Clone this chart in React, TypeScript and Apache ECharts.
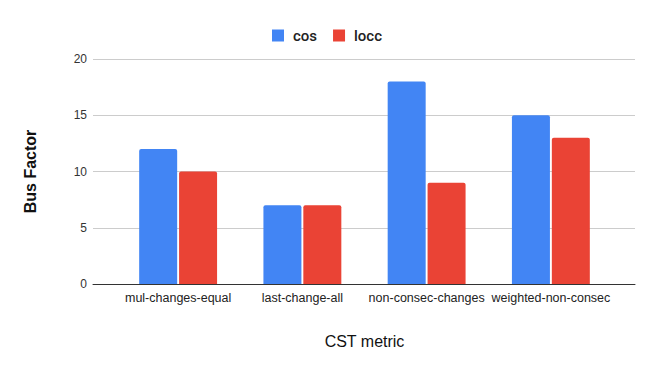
import React, { useEffect, useRef } from "react";
import * as echarts from "echarts";

const categories = ["mul-changes-equal", "last-change-all", "non-consec-changes", "weighted-non-consec"];
const cosValues = [12, 7, 18, 15];
const loccValues = [10, 7, 9, 13];
const seriesNames = ["cos", "locc"];
const yTicks = { min: 0, max: 20, interval: 5 };

const FONT = "'Liberation Sans', Arial, sans-serif";

export default function App() {
  const ref = useRef<HTMLDivElement>(null);
  useEffect(() => {
    document.body.style.margin = "0";
    const chart = echarts.init(ref.current!, null, { renderer: "svg" });
    chart.setOption({
      animation: false,
      backgroundColor: "#ffffff",
      legend: {
        top: 23,
        left: "center",
        itemWidth: 12,
        itemHeight: 12,
        itemGap: 16,
        icon: "rect",
        data: seriesNames,
        textStyle: { fontFamily: "Roboto, sans-serif", fontSize: 15, fontWeight: 500, color: "#222", padding: [0, 0, 0, 4] },
      },
      grid: [
        { left: 93, right: 19, top: 59, bottom: 87 },
        { left: 116, right: 41, top: 59, bottom: 87 },
      ],
      xAxis: [
        {
          gridIndex: 0,
          type: "value",
          min: 0,
          max: 1,
          axisLine: { show: true, lineStyle: { color: "#333", width: 1 } },
          axisTick: { show: false },
          axisLabel: { show: false },
          splitLine: { show: false },
        },
        {
          gridIndex: 1,
          type: "category",
          data: categories,
          axisLine: { show: false },
          axisTick: { show: false },
          axisLabel: { fontFamily: FONT, fontSize: 12.5, color: "#222", margin: 7, interval: 0 },
          name: "CST metric",
          nameLocation: "middle",
          nameGap: 49,
          nameTextStyle: { fontFamily: FONT, fontSize: 16, color: "#111" },
        },
      ],
      yAxis: [
        {
          gridIndex: 0,
          type: "value",
          min: yTicks.min,
          max: yTicks.max,
          interval: yTicks.interval,
          axisLine: { show: false },
          axisTick: { show: false },
          axisLabel: { fontFamily: FONT, fontSize: 12, color: "#333", margin: 6 },
          splitLine: { lineStyle: { color: "#cccccc", width: 1 } },
          name: "Bus Factor",
          nameLocation: "middle",
          nameGap: 55,
          nameTextStyle: { fontFamily: FONT, fontSize: 16, fontWeight: "bold", color: "#111" },
        },
        {
          gridIndex: 1,
          type: "value",
          min: yTicks.min,
          max: yTicks.max,
          interval: yTicks.interval,
          show: false,
          splitLine: { show: false },
        },
      ],
      series: [
        {
          name: seriesNames[0],
          type: "bar",
          xAxisIndex: 1,
          yAxisIndex: 1,
          data: cosValues,
          barWidth: 38,
          barGap: "5%",
          itemStyle: { color: "#4285F4", borderRadius: [2, 2, 0, 0] },
        },
        {
          name: seriesNames[1],
          type: "bar",
          xAxisIndex: 1,
          yAxisIndex: 1,
          data: loccValues,
          barWidth: 38,
          barGap: "5%",
          itemStyle: { color: "#EA4335", borderRadius: [2, 2, 0, 0] },
        },
      ],
    });
    return () => chart.dispose();
  }, []);
  return <div ref={ref} style={{ width: 654, height: 371 }} />;
}
